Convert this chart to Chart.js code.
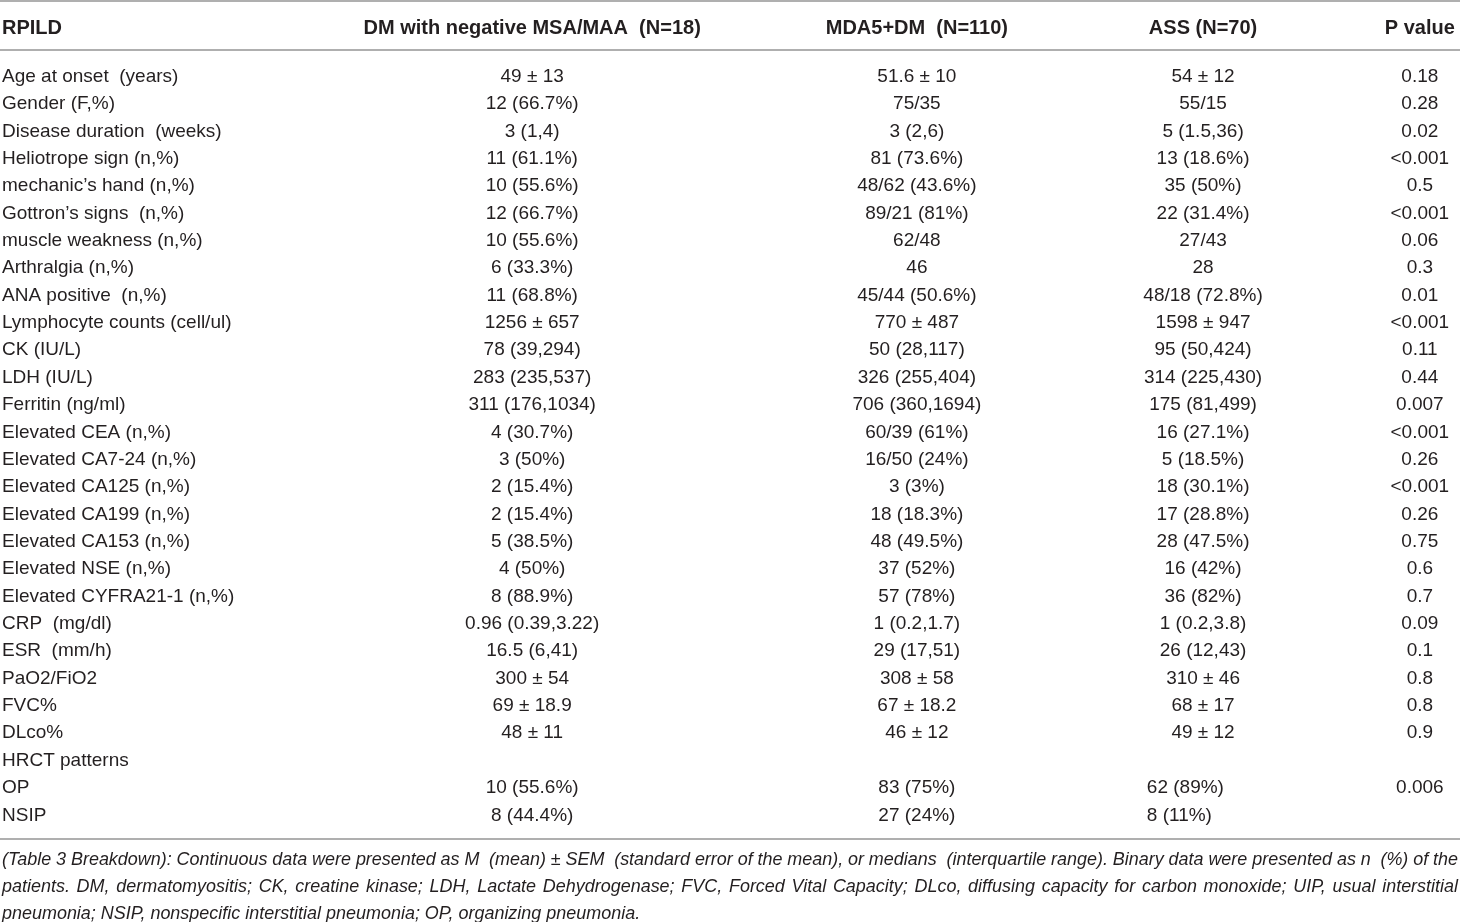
<!DOCTYPE html>
<html>
<head>
<meta charset="utf-8">
<script src="https://cdn.jsdelivr.net/npm/chart.js@4.4.1/dist/chart.umd.min.js"></script>
<style>
  html, body { margin: 0; padding: 0; background: #fff; }
  #wrap { width: 1460px; height: 922px; position: relative; }
</style>
</head>
<body>
<div id="wrap"><canvas id="cTable"></canvas></div>
<script>
// ---- table content ----
const columns = ['RPILD', 'DM with negative MSA/MAA  (N=18)', 'MDA5+DM  (N=110)', 'ASS (N=70)', 'P value'];

const rowLabels = [
  'Age at onset  (years)', 'Gender (F,%)', 'Disease duration  (weeks)', 'Heliotrope sign (n,%)',
  'mechanic\u2019s hand (n,%)', 'Gottron\u2019s signs  (n,%)', 'muscle weakness (n,%)', 'Arthralgia (n,%)',
  'ANA positive  (n,%)', 'Lymphocyte counts (cell/ul)', 'CK (IU/L)', 'LDH (IU/L)', 'Ferritin (ng/ml)',
  'Elevated CEA (n,%)', 'Elevated CA7-24 (n,%)', 'Elevated CA125 (n,%)', 'Elevated CA199 (n,%)',
  'Elevated CA153 (n,%)', 'Elevated NSE (n,%)', 'Elevated CYFRA21-1 (n,%)', 'CRP  (mg/dl)',
  'ESR  (mm/h)', 'PaO2/FiO2', 'FVC%', 'DLco%', 'HRCT patterns', 'OP', 'NSIP'
];

const dmNeg = [
  '49 \u00b1 13', '12 (66.7%)', '3 (1,4)', '11 (61.1%)', '10 (55.6%)', '12 (66.7%)', '10 (55.6%)',
  '6 (33.3%)', '11 (68.8%)', '1256 \u00b1 657', '78 (39,294)', '283 (235,537)', '311 (176,1034)',
  '4 (30.7%)', '3 (50%)', '2 (15.4%)', '2 (15.4%)', '5 (38.5%)', '4 (50%)', '8 (88.9%)',
  '0.96 (0.39,3.22)', '16.5 (6,41)', '300 \u00b1 54', '69 \u00b1 18.9', '48 \u00b1 11', '', '10 (55.6%)', '8 (44.4%)'
];

const mda5 = [
  '51.6 \u00b1 10', '75/35', '3 (2,6)', '81 (73.6%)', '48/62 (43.6%)', '89/21 (81%)', '62/48',
  '46', '45/44 (50.6%)', '770 \u00b1 487', '50 (28,117)', '326 (255,404)', '706 (360,1694)',
  '60/39 (61%)', '16/50 (24%)', '3 (3%)', '18 (18.3%)', '48 (49.5%)', '37 (52%)', '57 (78%)',
  '1 (0.2,1.7)', '29 (17,51)', '308 \u00b1 58', '67 \u00b1 18.2', '46 \u00b1 12', '', '83 (75%)', '27 (24%)'
];

const ass = [
  '54 \u00b1 12', '55/15', '5 (1.5,36)', '13 (18.6%)', '35 (50%)', '22 (31.4%)', '27/43',
  '28', '48/18 (72.8%)', '1598 \u00b1 947', '95 (50,424)', '314 (225,430)', '175 (81,499)',
  '16 (27.1%)', '5 (18.5%)', '18 (30.1%)', '17 (28.8%)', '28 (47.5%)', '16 (42%)', '36 (82%)',
  '1 (0.2,3.8)', '26 (12,43)', '310 \u00b1 46', '68 \u00b1 17', '49 \u00b1 12', '', '62 (89%)', '8 (11%)'
];

const pValues = [
  '0.18', '0.28', '0.02', '<0.001', '0.5', '<0.001', '0.06', '0.3', '0.01', '<0.001', '0.11',
  '0.44', '0.007', '<0.001', '0.26', '<0.001', '0.26', '0.75', '0.6', '0.7', '0.09', '0.1',
  '0.8', '0.8', '0.9', '', '0.006', ''
];

const footnote = [
  '(Table 3 Breakdown): Continuous data were presented as M  (mean) \u00b1 SEM  (standard error of the mean), or medians  (interquartile range). Binary data were presented as n  (%) of the',
  'patients. DM, dermatomyositis; CK, creatine kinase; LDH, Lactate Dehydrogenase; FVC, Forced Vital Capacity; DLco, diffusing capacity for carbon monoxide; UIP, usual interstitial',
  'pneumonia; NSIP, nonspecific interstitial pneumonia; OP, organizing pneumonia.'
];

// ---- layout / style ----
const INK = '#231f20';
const RULE = '#949494';
const FONT = '"Liberation Sans", Arial, Helvetica, sans-serif';
const colCenter = [36.45, 62.8, 82.4, 97.25];   // % of table width
const hrctLeft = 78.55;                          // ASS column, HRCT sub-rows sit left-aligned
const colValues = [dmNeg, mda5, ass, pValues];

const hrctIdx = rowLabels.indexOf('HRCT patterns');

// one invisible dataset per value column; the plugin writes each cell at its point
const datasets = colValues.map((vals, k) => ({
  label: columns[k + 1],
  data: rowLabels.map((r, i) => ({ x: colCenter[k], y: r, t: vals[i] })),
  pointRadius: 0, pointHoverRadius: 0, showLine: false
}));

// justified line: words spread so the line runs from x0 to x1 (double spaces keep an extra gap)
function drawJustified(ctx, text, x0, x1, yy, sx) {
  const words = text.split(' ');
  const widths = words.map(w => ctx.measureText(w).width * sx);
  const total = widths.reduce((s, w) => s + w, 0);
  const gap = (x1 - x0 - total) / (words.length - 1);
  let cx = x0;
  words.forEach((w, i) => {
    ctx.save(); ctx.translate(cx, yy); ctx.scale(sx, 1); ctx.fillText(w, 0, 0); ctx.restore();
    cx += widths[i] + gap;
  });
}

const tablePlugin = {
  id: 'tablePlugin',
  afterDatasetsDraw(chart) {
    const { ctx, chartArea: a, scales: { x, y } } = chart;
    const W = chart.width;
    ctx.save();
    ctx.fillStyle = INK;
    ctx.textBaseline = 'middle';

    // rules
    ctx.strokeStyle = RULE; ctx.lineWidth = 1.5;
    [a.top - 62, a.top - 13, a.bottom + 10].forEach(yy => {
      ctx.beginPath(); ctx.moveTo(0, yy); ctx.lineTo(W, yy); ctx.stroke();
    });

    // header
    const hy = a.top - 35;
    ctx.font = 'bold 20px ' + FONT;
    ctx.textAlign = 'left';
    ctx.fillText(columns[0], a.left + 2, hy);
    ctx.textAlign = 'center';
    colCenter.forEach((c, k) => ctx.fillText(columns[k + 1], x.getPixelForValue(c), hy));

    // row labels
    ctx.font = '19px ' + FONT;
    ctx.textAlign = 'left';
    rowLabels.forEach((r, i) => ctx.fillText(r, a.left + 2, y.getPixelForValue(i)));

    // cells
    chart.data.datasets.forEach((ds, k) => {
      const meta = chart.getDatasetMeta(k);
      meta.data.forEach((pt, i) => {
        const t = ds.data[i].t;
        if (!t) return;
        if (k === 2 && i > hrctIdx) {
          ctx.textAlign = 'left';
          ctx.fillText(t, x.getPixelForValue(hrctLeft), pt.y);
        } else {
          ctx.textAlign = 'center';
          ctx.fillText(t, pt.x, pt.y);
        }
      });
    });

    // footnote
    ctx.font = 'italic 19px ' + FONT;
    ctx.textAlign = 'left';
    const sx = 0.945;
    footnote.forEach((line, i) => {
      const yy = a.bottom + 31 + i * 27;
      if (i < footnote.length - 1) drawJustified(ctx, line, 2, W - 2, yy, sx);
      else { ctx.save(); ctx.translate(2, yy); ctx.scale(sx, 1); ctx.fillText(line, 0, 0); ctx.restore(); }
    });
    ctx.restore();
  }
};

new Chart(document.getElementById('cTable').getContext('2d'), {
  type: 'scatter',
  data: { datasets },
  options: {
    responsive: true, maintainAspectRatio: false,
    animation: false,
    events: [],
    layout: { padding: { top: 63, bottom: 93, left: 0, right: 0 } },
    plugins: { legend: { display: false }, tooltip: { enabled: false } },
    scales: {
      x: { type: 'linear', min: 0, max: 100, display: false },
      y: { type: 'category', labels: rowLabels, offset: true, display: false }
    }
  },
  plugins: [tablePlugin]
});
</script>
</body>
</html>
